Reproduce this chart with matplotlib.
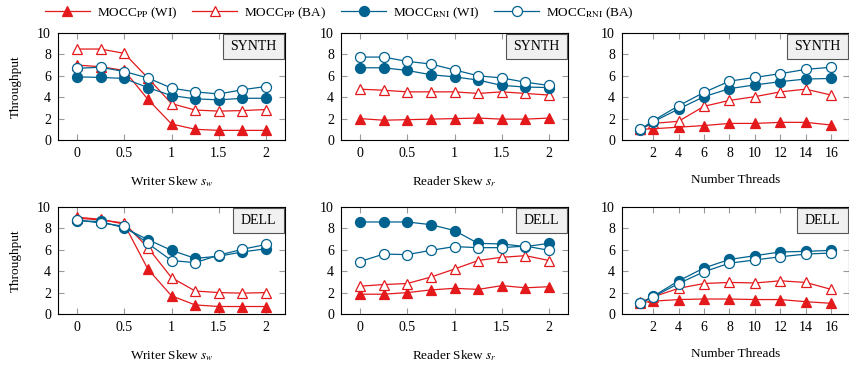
import matplotlib
matplotlib.use("Agg")
import matplotlib.pyplot as plt
from matplotlib.patches import Rectangle

plt.rcParams['font.family'] = ['Liberation Serif', 'DejaVu Serif']
plt.rcParams['mathtext.fontset'] = 'stix'
plt.rcParams['font.size'] = 9

skew = [0, 0.25, 0.5, 0.75, 1, 1.25, 1.5, 1.75, 2]
threads = [1, 2, 4, 6, 8, 10, 12, 14, 16]

# SYNTH, writer skew
sw_synth_pp_wi = [7.0, 6.85, 6.5, 3.8, 1.5, 1.0, 0.9, 0.9, 0.9]
sw_synth_pp_ba = [8.5, 8.5, 8.1, 5.8, 3.4, 2.8, 2.7, 2.75, 2.85]
sw_synth_rni_wi = [5.9, 5.85, 5.75, 4.9, 4.15, 3.85, 3.75, 3.9, 3.9]
sw_synth_rni_ba = [6.7, 6.8, 6.4, 5.8, 4.85, 4.5, 4.3, 4.7, 5.0]

# SYNTH, reader skew
sr_synth_pp_wi = [2.0, 1.85, 1.9, 1.95, 2.0, 2.05, 1.95, 1.95, 2.05]
sr_synth_pp_ba = [4.75, 4.65, 4.5, 4.5, 4.5, 4.35, 4.5, 4.35, 4.2]
sr_synth_rni_wi = [6.75, 6.75, 6.5, 6.1, 5.9, 5.6, 5.1, 4.95, 4.9]
sr_synth_rni_ba = [7.75, 7.75, 7.35, 7.1, 6.55, 6.0, 5.8, 5.4, 5.1]

# SYNTH, threads
th_synth_pp_wi = [1.0, 1.05, 1.2, 1.35, 1.55, 1.55, 1.65, 1.65, 1.4]
th_synth_pp_ba = [1.05, 1.55, 1.75, 3.15, 3.7, 4.05, 4.5, 4.75, 4.2]
th_synth_rni_wi = [0.95, 1.7, 2.9, 4.05, 4.8, 5.15, 5.45, 5.7, 5.75]
th_synth_rni_ba = [1.0, 1.8, 3.2, 4.45, 5.5, 5.85, 6.2, 6.6, 6.8]

# DELL, writer skew
sw_dell_pp_wi = [9.05, 8.85, 8.4, 4.2, 1.7, 0.85, 0.7, 0.7, 0.7]
sw_dell_pp_ba = [8.95, 8.8, 8.5, 6.2, 3.4, 2.15, 2.0, 1.95, 2.0]
sw_dell_rni_wi = [8.7, 8.65, 8.05, 6.95, 5.95, 5.2, 5.4, 5.8, 6.1]
sw_dell_rni_ba = [8.8, 8.5, 8.2, 6.6, 5.0, 4.8, 5.5, 6.05, 6.5]

# DELL, reader skew
sr_dell_pp_wi = [1.85, 1.85, 2.0, 2.25, 2.4, 2.3, 2.65, 2.45, 2.55]
sr_dell_pp_ba = [2.6, 2.75, 2.85, 3.45, 4.2, 5.0, 5.3, 5.45, 5.0]
sr_dell_rni_wi = [8.6, 8.6, 8.6, 8.35, 7.8, 6.6, 6.55, 6.3, 6.6]
sr_dell_rni_ba = [4.9, 5.6, 5.55, 5.95, 6.3, 6.2, 6.2, 6.35, 5.95]

# DELL, threads
th_dell_pp_wi = [1.05, 1.2, 1.35, 1.4, 1.4, 1.35, 1.35, 1.15, 1.0]
th_dell_pp_ba = [1.1, 1.6, 2.4, 2.85, 2.95, 2.9, 3.1, 2.95, 2.3]
th_dell_rni_wi = [1.0, 1.65, 3.1, 4.3, 5.1, 5.45, 5.8, 5.85, 5.95]
th_dell_rni_ba = [1.0, 1.6, 2.85, 3.95, 4.75, 5.05, 5.35, 5.6, 5.7]

red = '#e3191c'
blue = '#00628f'

labels = [r'MOCC$_{\mathrm{PP}}$ (WI)', r'MOCC$_{\mathrm{PP}}$ (BA)',
          r'MOCC$_{\mathrm{RNI}}$ (WI)', r'MOCC$_{\mathrm{RNI}}$ (BA)']
styles = [dict(color=red, marker='^', mfc=red, mec=red),
          dict(color=red, marker='^', mfc='white', mec=red),
          dict(color=blue, marker='o', mfc=blue, mec=blue),
          dict(color=blue, marker='o', mfc='white', mec=blue)]

panels = [
    (skew, [sw_synth_pp_wi, sw_synth_pp_ba, sw_synth_rni_wi, sw_synth_rni_ba], 'SYNTH', r'Writer Skew $s_w$'),
    (skew, [sr_synth_pp_wi, sr_synth_pp_ba, sr_synth_rni_wi, sr_synth_rni_ba], 'SYNTH', r'Reader Skew $s_r$'),
    (threads, [th_synth_pp_wi, th_synth_pp_ba, th_synth_rni_wi, th_synth_rni_ba], 'SYNTH', 'Number Threads'),
    (skew, [sw_dell_pp_wi, sw_dell_pp_ba, sw_dell_rni_wi, sw_dell_rni_ba], 'DELL', r'Writer Skew $s_w$'),
    (skew, [sr_dell_pp_wi, sr_dell_pp_ba, sr_dell_rni_wi, sr_dell_rni_ba], 'DELL', r'Reader Skew $s_r$'),
    (threads, [th_dell_pp_wi, th_dell_pp_ba, th_dell_rni_wi, th_dell_rni_ba], 'DELL', 'Number Threads'),
]

W, H = 849, 366
fig = plt.figure(figsize=(W / 100, H / 100), dpi=100)
lefts = [58, 341, 622]
width = 227
tops = [33, 207]
height = 107
box_w = {'SYNTH': 61, 'DELL': 51}

for i, (x, series, tag, xlabel) in enumerate(panels):
    r, c = divmod(i, 3)
    ax = fig.add_axes([lefts[c] / W, 1 - (tops[r] + height) / H, width / W, height / H])
    for ys, st, lab in zip(series, styles, labels):
        ax.plot(x, ys, lw=0.9, ms=7.2, mew=0.9, label=lab, **st)
    ax.set_ylim(0, 10)
    ax.set_yticks([0, 2, 4, 6, 8, 10])
    if x is threads:
        ax.set_xlim(-0.45, 17.4)
        ax.set_xticks([2, 4, 6, 8, 10, 12, 14, 16])
    else:
        ax.set_xlim(-0.2, 2.2)
        ax.set_xticks([0, 0.5, 1, 1.5, 2])
        ax.set_xticklabels(['0', '0.5', '1', '1.5', '2'])
    ax.tick_params(direction='in', top=True, right=True, length=4.5, width=0.8,
                   color='#999999', labelsize=10, pad=5)
    for s in ax.spines.values():
        s.set_linewidth(0.8)
    ax.set_xlabel(xlabel, fontsize=9.5, labelpad=10)
    if c == 0:
        ax.set_ylabel('Throughput', fontsize=9.5, labelpad=11)
    bw = box_w[tag] / width
    bh = 25 / height
    ax.add_patch(Rectangle((1 - bw - 0.004, 1 - bh - 0.006), bw, bh, transform=ax.transAxes,
                           fc='#f0f0f0', ec='#555555', lw=0.8, zorder=5))
    ax.text(1 - bw / 2 - 0.004, 1 - bh / 2 - 0.006, tag, transform=ax.transAxes,
            ha='center', va='center', fontsize=10, zorder=6)
    if i == 0:
        handles, hl = ax.get_legend_handles_labels()

fig.legend(handles, hl, loc='center left', bbox_to_anchor=(45 / W, 1 - 13 / H), ncol=4,
           frameon=False, fontsize=9.5, handlelength=3.4, columnspacing=1.1,
           handletextpad=0.55, borderaxespad=0, borderpad=0)

fig.savefig('out.png', dpi=100)
